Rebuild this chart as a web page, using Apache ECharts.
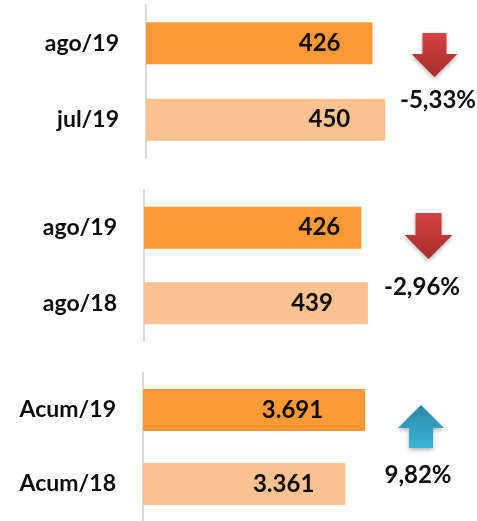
<!DOCTYPE html>
<html><head><meta charset="utf-8">
<script src="https://cdn.jsdelivr.net/npm/echarts@6/dist/echarts.min.js"></script>
<style>html,body{margin:0;padding:0;background:#fff}#c{width:477px;height:521px}</style>
</head><body><div id="c"></div>
<script>
const cats1 = ['ago/19', 'jul/19'];
const vals1 = [426, 450];
const cats2 = ['ago/19', 'ago/18'];
const vals2 = [426, 439];
const cats3 = ['Acum/19', 'Acum/18'];
const vals3 = [3691, 3361];
const pcts = ['-5,33%', '-2,96%', '9,82%'];
const dirs = ['down', 'down', 'up'];

const FONT = 'Lato';
const colors = ['#FE9A35', '#FAC191'];
const labelDist = [[32, 35], [21, 35], [42, 31]];

const grids = [
  {left: 146, top: 5, width: 319, height: 153},
  {left: 144, top: 190, width: 306, height: 151},
  {left: 143, top: 373, width: 301, height: 154}
];
const maxes = [600, 600, 5000];
const catsAll = [cats1, cats2, cats3];
const valsAll = [vals1, vals2, vals3];

function fmt(v) {
  return String(v).replace(/\B(?=(\d{3})+(?!\d))/g, '.');
}

const chart = echarts.init(document.getElementById('c'));
const option = {
  animation: false,
  grid: grids,
  xAxis: grids.map((g, i) => ({
    type: 'value', gridIndex: i, min: 0, max: maxes[i], show: false
  })),
  yAxis: grids.map((g, i) => ({
    type: 'category', gridIndex: i, data: catsAll[i], inverse: true,
    axisLine: {show: true, lineStyle: {color: '#d9d9d9', width: 2}},
    axisTick: {show: false},
    axisLabel: {margin: 27, color: '#0d0d0d', fontFamily: FONT, fontWeight: 'bold', fontSize: 23}
  })),
  series: grids.map((g, i) => ({
    type: 'bar', xAxisIndex: i, yAxisIndex: i, barWidth: 42,
    data: valsAll[i].map((v, j) => ({value: v, itemStyle: {color: colors[j]}, label: {distance: labelDist[i][j]}})),
    label: {
      show: true, position: 'insideRight',
      formatter: p => fmt(p.value),
      color: '#0d0d0d', fontFamily: FONT, fontWeight: 'bold', fontSize: 24
    }
  })),
  graphic: []
};

// arrows and percent texts
const arrowSpecs = [
  {cx: 434.5, top: 33, bottom: 77, headY: 54, shaftHalf: 12, headHalf: 23},
  {cx: 428.5, top: 213, bottom: 259, headY: 235, shaftHalf: 13, headHalf: 24},
  {cx: 421, top: 405, bottom: 448, headY: 428, shaftHalf: 12, headHalf: 23}
];
const textPos = [{x: 438, y: 100}, {x: 422, y: 287}, {x: 418, y: 475}];

arrowSpecs.forEach((a, i) => {
  let pts;
  let fill;
  if (dirs[i] === 'down') {
    pts = [[a.cx - a.shaftHalf, a.top], [a.cx + a.shaftHalf, a.top], [a.cx + a.shaftHalf, a.headY],
           [a.cx + a.headHalf, a.headY], [a.cx, a.bottom], [a.cx - a.headHalf, a.headY], [a.cx - a.shaftHalf, a.headY]];
    fill = new echarts.graphic.LinearGradient(0, 0, 0, 1, [{offset: 0, color: '#D44242'}, {offset: 1, color: '#A62C2C'}]);
  } else {
    pts = [[a.cx, a.top], [a.cx + a.headHalf, a.headY], [a.cx + a.shaftHalf, a.headY], [a.cx + a.shaftHalf, a.bottom],
           [a.cx - a.shaftHalf, a.bottom], [a.cx - a.shaftHalf, a.headY], [a.cx - a.headHalf, a.headY]];
    fill = new echarts.graphic.LinearGradient(0, 0, 0, 1, [{offset: 0, color: '#2A87A6'}, {offset: 1, color: '#3DB5D8'}]);
  }
  option.graphic.push({
    type: 'polygon', shape: {points: pts},
    style: {fill: fill, shadowBlur: 4, shadowColor: 'rgba(0,0,0,0.3)', shadowOffsetY: 2}
  });
  option.graphic.push({
    type: 'text', x: textPos[i].x, y: textPos[i].y,
    style: {text: pcts[i], fill: '#0d0d0d', font: 'bold 24px ' + FONT, align: 'center', verticalAlign: 'middle'}
  });
});

chart.setOption(option);
</script>
</body></html>
